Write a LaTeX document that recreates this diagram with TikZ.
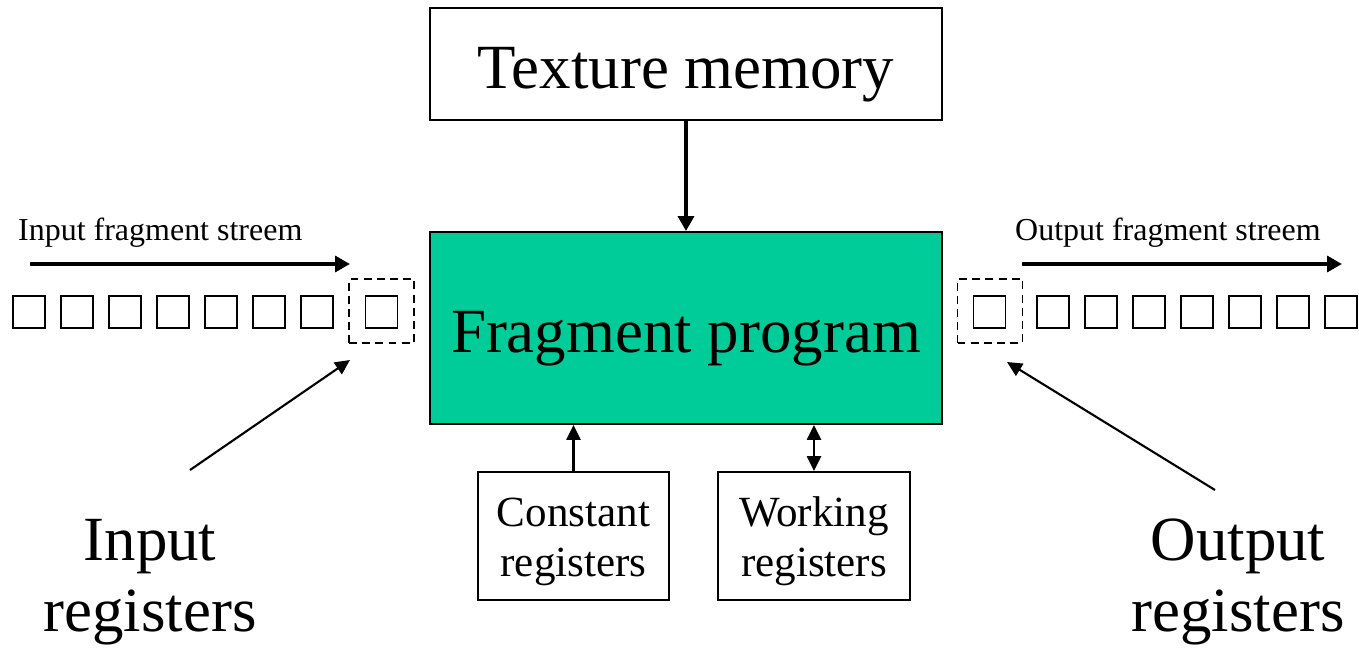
\documentclass[tikz,border=0pt]{standalone}
\usepackage{fontspec}
\setmainfont{Liberation Serif}
\usetikzlibrary{arrows.meta,positioning}
\definecolor{fragteal}{RGB}{0,204,153}
\begin{document}
\begin{tikzpicture}[x=0.02cm, y=-0.02cm,
  box/.style={draw, line width=1.1pt, inner sep=0pt},
  cell/.style={draw, line width=1.1pt, minimum size=0.64cm, inner sep=0pt},
  buf/.style={draw, dash pattern=on 4.5pt off 3pt, line width=1.1pt, minimum width=1.3cm, minimum height=1.28cm, inner sep=0pt},
  big/.style={font=\fontsize{35.8}{40.4}\selectfont},
  mid/.style={font=\fontsize{24.5}{28.5}\selectfont},
  small/.style={font=\fontsize{18.2}{21}\selectfont},
  flow/.style={line width=2.2pt, -{Triangle[length=8.5pt, width=9pt]}},
  ptr/.style={line width=1.2pt, -{Triangle[length=8.5pt, width=8pt]}}]
  \useasboundingbox (0,0) rectangle (1359,652);
  % main blocks
  \node[box, big, text height=27.4pt, text depth=0pt, minimum width=10.24cm, minimum height=2.24cm] (tex) at (686,64) {Texture memory};
  \node[box, big, text height=27.4pt, text depth=0pt, fill=fragteal, minimum width=10.24cm, minimum height=3.84cm] (frag) at (686,328) {Fragment program};
  \node[box, mid, align=center, text height=46.6pt, text depth=0pt, minimum width=3.82cm, minimum height=2.56cm] (const) at (573.5,536) {Constant\\registers};
  \node[box, mid, align=center, text height=46.6pt, text depth=0pt, minimum width=3.84cm, minimum height=2.56cm] (work) at (814,536) {Working\\registers};
  \draw[flow] (tex) -- (frag);
  \draw[ptr] (const) -- (const |- frag.south);
  \draw[ptr, {Triangle[length=8.5pt, width=8pt]}-{Triangle[length=8.5pt, width=8pt]}] (work) -- (work |- frag.south);
  % input stream
  \node[small, anchor=base west] (inlbl) at (12,240) {Input fragment streem};
  \coordinate (ins) at (30,264);
  \coordinate (ine) at (350,264);
  \draw[flow] (ins) -- (ine);
  \foreach \i in {0,...,6}
    \node[cell] (in\i) at (29+48*\i,312) {};
  \node[buf] (inbuf) at (381.5,311) {};
  \node[cell] (incur) at (381.5,312) {};
  % output stream
  \node[small, anchor=base west] (outlbl) at (1009,240) {Output fragment streem};
  \coordinate (outs) at (1022,264);
  \coordinate (oute) at (1342,264);
  \draw[flow] (outs) -- (oute);
  \node[buf] (outbuf) at (990,311) {};
  \node[cell] (outcur) at (989.5,312) {};
  \foreach \i in {0,...,6}
    \node[cell] (out\i) at (1053+48*\i,312) {};
  % register labels
  \node[big, align=center] (inreg) at (150,582) {Input\\registers};
  \node[big, align=center] (outreg) at (1238,582) {Output\\registers};
  \coordinate (inp) at (190,470);
  \coordinate (outp) at (1215,490);
  \draw[ptr] (inp) -- (350,360);
  \draw[ptr] (outp) -- (1007,362);
\end{tikzpicture}
\end{document}
